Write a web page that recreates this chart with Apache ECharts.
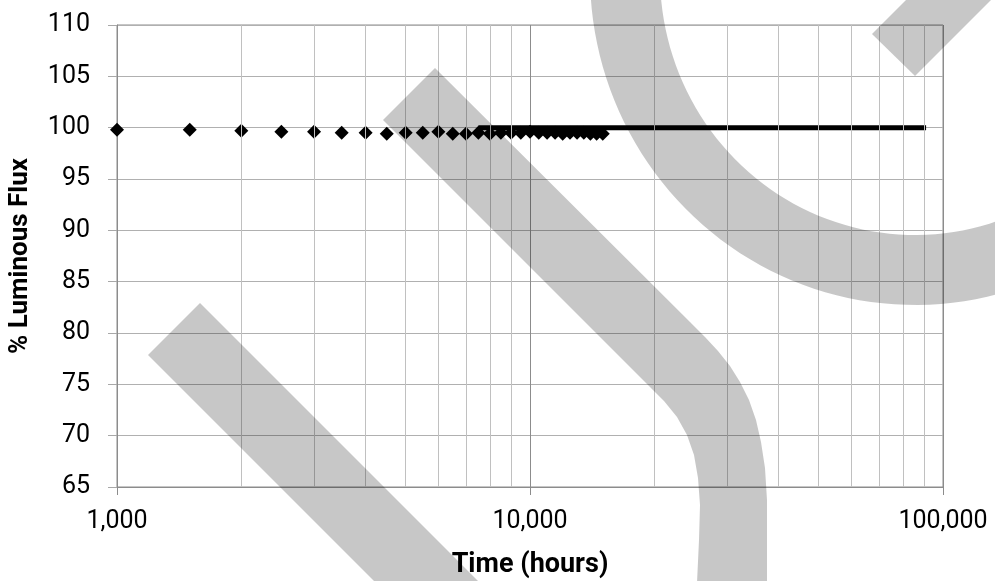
<!DOCTYPE html>
<html><head><meta charset="utf-8">
<script src="https://cdn.jsdelivr.net/npm/echarts@6/dist/echarts.min.js"></script>
<style>html,body{margin:0;padding:0;background:#fff}#c{width:995px;height:581px}</style>
</head><body><div id="c"></div>
<script>
// Measured lumen maintenance data (hours vs % luminous flux)
const hours = [1000,1500,2000,2500,3000,3500,4000,4500,5000,5500,6000,6500,7000,7500,8000,8500,9000,9500,10000,10500,11000,11500,12000,12500,13000,13500,14000,14500,15000];
const flux  = [99.8,99.8,99.7,99.6,99.6,99.5,99.5,99.4,99.5,99.5,99.6,99.4,99.4,99.5,99.4,99.5,99.5,99.5,99.6,99.5,99.5,99.5,99.4,99.5,99.5,99.5,99.4,99.4,99.4];
// Projection line
const projHours = [7500, 91000];
const projFlux  = [100, 100];
// Axes
const xMin = 1000, xMax = 100000;
const yMin = 65, yMax = 110, yStep = 5;
const minorGridHours = [2000,3000,4000,5000,6000,7000,8000,9000,20000,30000,40000,50000,60000,70000,80000,90000];
const xTitle = 'Time (hours)';
const yTitle = '% Luminous Flux';

const chart = echarts.init(document.getElementById('c'), null, {renderer:'canvas'});

// watermark decoration (gray strokes)
const wmFill = 'rgba(0,0,0,0.22)';
function ellipseBand(cx, cy, a, b, hw, t0, t1, n) {
  const outer = [], inner = [];
  for (let i = 0; i <= n; i++) {
    const t = t0 + (t1 - t0) * i / n;
    outer.push([cx + (a + hw) * Math.cos(t), cy + (b + hw) * Math.sin(t)]);
    inner.push([cx + (a - hw) * Math.cos(t), cy + (b - hw) * Math.sin(t)]);
  }
  return outer.concat(inner.reverse());
}
const watermark = [
  {type:'polygon', shape:{points:[[148,355],[200,303],[480,583],[376,583]]}},
  {type:'polygon', shape:{points:[[383,120],[435,68],[690,322],[705,337],[718,351],[730,366],[740,382],[749,400],[756,420],[761,442],[765,468],[767,500],[767,583],
                                  [697,583],[699,540],[700,505],[698,478],[694,455],[687,435],[677,417],[664,401],[650,387]]}},
  {type:'polygon', shape:{points:ellipseBand(915,-25,290,295,35,Math.PI+0.15,0.05,90)}},
  {type:'polygon', shape:{points:[[872,34],[908,-2],[993,-2],[915,76]]}}
].map(e => Object.assign(e, {z:100, silent:true, style:{fill:wmFill}}));

const fmt = v => Math.round(v).toLocaleString('en-US');

chart.setOption({
  animation:false,
  backgroundColor:'#fff',
  grid:{left:117,right:52,top:25,bottom:94,containLabel:false,outerBoundsMode:'none',
        show:true,borderColor:'#8c8c8c',borderWidth:1,backgroundColor:'transparent'},
  xAxis:{
    type:'log', logBase:10, min:xMin, max:xMax,
    axisLine:{show:true, lineStyle:{color:'#8c8c8c', width:1}},
    axisTick:{show:true, length:8, lineStyle:{color:'#8c8c8c'}},
    axisLabel:{show:true, fontFamily:'Roboto', fontSize:25, color:'#000', margin:22, formatter:fmt, showMinLabel:true, showMaxLabel:true},
    splitLine:{show:true, lineStyle:{color:'#8c8c8c', width:1}},
    minorTick:{show:false}, minorSplitLine:{show:false},
    name:xTitle, nameLocation:'middle', nameGap:65,
    nameTextStyle:{fontFamily:'Roboto', fontWeight:'bold', fontSize:27, color:'#000', verticalAlign:'top'}
  },
  yAxis:{
    type:'value', min:yMin, max:yMax, interval:yStep,
    axisLine:{show:true, lineStyle:{color:'#8c8c8c', width:1}},
    axisTick:{show:true, length:9, lineStyle:{color:'#a8a8a8'}},
    axisLabel:{fontFamily:'Roboto', fontSize:25, color:'#000', margin:27},
    splitLine:{show:true, lineStyle:{color:'#b0b0b0', width:1}},
    name:yTitle, nameLocation:'middle', nameGap:84, nameRotate:90,
    nameTextStyle:{fontFamily:'Roboto', fontWeight:'bold', fontSize:26, color:'#000'}
  },
  series:[
    {type:'scatter', name:'minor', data:[], z:1, silent:true,
      markLine:{silent:true, symbol:['none','none'], label:{show:false}, animation:false,
        lineStyle:{color:'#c0c0c0', width:1, type:'solid'},
        emphasis:{disabled:true},
        data:minorGridHours.map(v => ({xAxis:v}))}},
    {type:'scatter', name:'Measured', data:hours.map((h,i)=>[h,flux[i]]), symbol:'diamond', symbolSize:14,
      itemStyle:{color:'#000', opacity:1}, z:3},
    {type:'line', name:'Projection', data:projHours.map((h,i)=>[h,projFlux[i]]), symbol:'none',
      lineStyle:{color:'#000', width:5, opacity:1}, z:4}
  ],
  graphic:watermark
});
</script></body></html>
